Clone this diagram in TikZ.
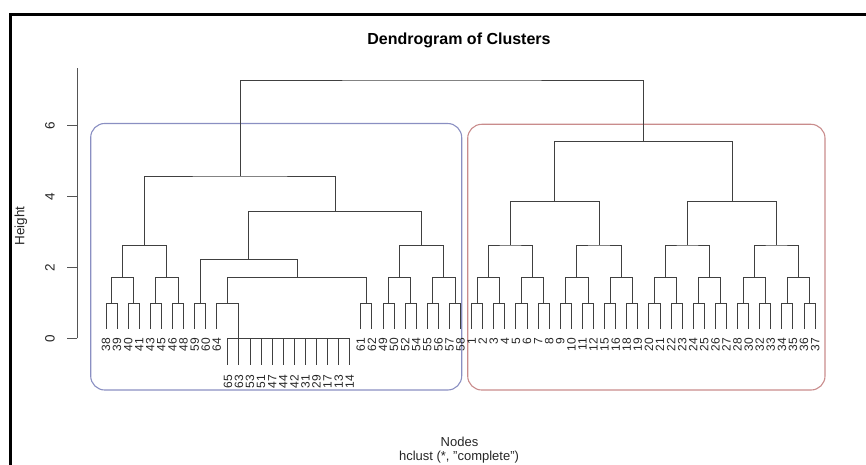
\documentclass[tikz,border=0pt]{standalone}
\usepackage{fontspec}
\setmainfont{Liberation Sans}
\usetikzlibrary{calc}
\definecolor{dgray}{HTML}{404040}
\definecolor{agray}{HTML}{555555}
\definecolor{boxblue}{HTML}{8A8FC2}
\definecolor{boxred}{HTML}{C98C8C}
\newcommand\dmerge[4]{%
  \coordinate (#1tmp) at ($(#2)!0.5!(#3)$);
  \coordinate (#1) at (#1tmp |- 0,#4);
  \draw[dline] (#2) |- (#1) -| (#3);}
\begin{document}
\begin{tikzpicture}[x=1pt,y=-1pt,
  dline/.style={draw=dgray,line width=0.95pt},
  axline/.style={draw=agray,line width=1pt},
  leaflab/.style={rotate=90,anchor=east,inner sep=0pt,text=black!85,font=\fontsize{12}{12}\selectfont},
  ticklab/.style={rotate=90,inner sep=0pt,text=black!85,font=\fontsize{13.5}{13.5}\selectfont},
  plaintext/.style={inner sep=0pt,text=black!85,font=\fontsize{13}{13}\selectfont},
  titletext/.style={inner sep=0pt,text=black,font=\fontsize{16}{16}\selectfont\bfseries},
  clusterbox/.style={rectangle,rounded corners=14pt,line width=1.1pt,fill=none,inner sep=0pt}]
\useasboundingbox (0,0) rectangle (866,465);
\clip (0,0) rectangle (866,465);
% frame
\coordinate (fbl) at (10,470);
\coordinate (ftl) at (10,15);
\coordinate (ftr) at (870,15);
\draw[line width=3pt,black] (fbl) -- (ftl) -- (ftr);
% title and axis titles
\node[titletext] (title) at (459,40.7) {Dendrogram of Clusters};
\node[plaintext] (xlab) at (459.5,442) {Nodes};
\node[plaintext] (sub) at (459,457.5) {hclust (*, "complete")};
\node[ticklab] (ylab) at (21,226) {Height};
% y axis
\coordinate (axtop) at (77.3,68.3);
\coordinate (axbot) at (77.3,338.3);
\draw[axline] (axtop) -- (axbot);
\foreach \v/\yy in {0/338.3,2/267.5,4/196.7,6/125.9} {
  \coordinate (tk\v) at (77.3,\yy);
  \coordinate (te\v) at (67.3,\yy);
  \draw[axline] (tk\v) -- (te\v);
  \node[ticklab] (tl\v) at (50,\yy) {\v};
}
% cluster boxes
\node[clusterbox,draw=boxblue,minimum width=371pt,minimum height=266.5pt] (bluebox) at (276.2,256.75) {};
\node[clusterbox,draw=boxred,minimum width=357.3pt,minimum height=265.7pt] (redbox) at (646.35,257.15) {};
% leaves
\foreach \lab [count=\i from 0] in {38,39,40,41,43,45,46,48,59,60,64} {
  \coordinate (L\lab) at ({106+11.08*\i},328.6);
  \node[leaflab] (T\lab) at ({106+11.08*\i},338) {\lab};
}
\foreach \lab [count=\i from 11] in {65,63,53,51,47,44,42,31,29,17,13,14} {
  \coordinate (L\lab) at ({106+11.08*\i},364.5);
  \node[leaflab] (T\lab) at ({106+11.08*\i},374.5) {\lab};
}
\foreach \lab [count=\i from 23] in {61,62,49,50,52,54,55,56,57,58,1,2,3,4,5,6,7,8,9,10,11,12,15,16,18,19,20,21,22,23,24,25,26,27,28,30,32,33,34,35,36,37} {
  \coordinate (L\lab) at ({106+11.08*\i},328.6);
  \node[leaflab] (T\lab) at ({106+11.08*\i},338) {\lab};
}
% zero-height group
\coordinate (G) at (L63 |- 0,338.3);
\foreach \lab in {65,63,53,51,47,44,42,31,29,17,13,14} {
  \draw[dline] (L\lab) -- (L\lab |- G);
}
\draw[dline] (L65 |- G) -- (L14 |- G);
% left cluster
\foreach \n/\a/\b in {a1/L38/L39,a2/L40/L41,a3/L43/L45,a4/L46/L48,a5/L59/L60,a6/L64/G,a7/L61/L62,a8/L49/L50,a9/L52/L54,a10/L55/L56,a11/L57/L58} {
  \dmerge{\n}{\a}{\b}{303.3}
}
\foreach \n/\a/\b in {b1/a1/a2,b2/a3/a4,b3/a6/a7,b4/a8/a9,b5/a10/a11} {
  \dmerge{\n}{\a}{\b}{277.3}
}
\dmerge{c1}{b1}{b2}{245.3}
\dmerge{c2}{a5}{b3}{259.3}
\dmerge{c3}{b4}{b5}{245.3}
\dmerge{d1}{c2}{c3}{211.7}
\dmerge{Lc}{c1}{d1}{176}
% right cluster
\foreach \n/\a/\b in {p1/L1/L2,p2/L3/L4,p3/L5/L6,p4/L7/L8,p5/L9/L10,p6/L11/L12,p7/L15/L16,p8/L18/L19,p9/L20/L21,p10/L22/L23,p11/L24/L25,p12/L26/L27,p13/L28/L30,p14/L32/L33,p15/L34/L35,p16/L36/L37} {
  \dmerge{\n}{\a}{\b}{303.3}
}
\foreach \n/\a/\b in {q1/p1/p2,q2/p3/p4,q3/p5/p6,q4/p7/p8,q5/p9/p10,q6/p11/p12,q7/p13/p14,q8/p15/p16} {
  \dmerge{\n}{\a}{\b}{277.3}
}
\foreach \n/\a/\b in {r1/q1/q2,r2/q3/q4,r3/q5/q6,r4/q7/q8} {
  \dmerge{\n}{\a}{\b}{245}
}
\dmerge{s1}{r1}{r2}{201.7}
\dmerge{s2}{r3}{r4}{201.7}
\dmerge{Rc}{s1}{s2}{141.7}
% root
\dmerge{root}{Lc}{Rc}{80}
\end{tikzpicture}
\end{document}
